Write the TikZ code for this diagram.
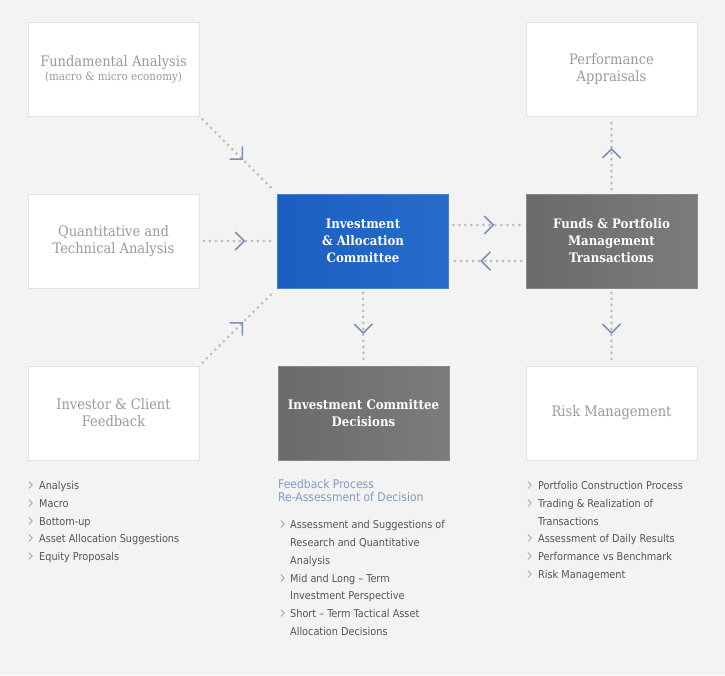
\documentclass[tikz,border=0pt]{standalone}
\usepackage{fontspec}
\usetikzlibrary{decorations.markings}
\newfontfamily\slabf{DejaVu Serif Condensed}
\newfontfamily\listf{DejaVu Sans Condensed}
\definecolor{bg}{HTML}{F3F3F3}
\definecolor{boxline}{HTML}{E2E2E2}
\definecolor{labelgray}{HTML}{9A9A9A}
\definecolor{dotgray}{HTML}{BDBDBD}
\definecolor{chevc}{HTML}{7A92BA}
\definecolor{listtext}{HTML}{555555}
\definecolor{headc}{HTML}{7F9BC8}
\definecolor{bulc}{HTML}{9AA8C0}
\definecolor{blueA}{HTML}{1B5EC1}
\definecolor{blueB}{HTML}{276CCB}
\definecolor{grayA}{HTML}{6A6A6A}
\definecolor{grayB}{HTML}{7C7C7C}
\tikzset{
  boxbase/.style={minimum width=171pt, minimum height=94pt, inner sep=0pt, align=center},
  lbox/.style={boxbase, draw=boxline, line width=0.8pt, top color=white, bottom color=white!96!bg,
    text=labelgray, font=\slabf\fontsize{14.5}{17}\selectfont},
  bluebox/.style={boxbase, draw=blueA!80!white, line width=0.8pt, left color=blueA, right color=blueB,
    text=white, font=\slabf\bfseries\fontsize{13.1}{17}\selectfont},
  graybox/.style={boxbase, draw=grayA!80!white, line width=0.8pt, left color=grayA, right color=grayB,
    text=white, font=\slabf\bfseries\fontsize{13.1}{17}\selectfont},
  chevline/.style={draw=chevc, line width=1.6pt, solid, shorten <=0pt, shorten >=0pt, line cap=butt},
  link/.style={draw=dotgray, line width=3pt, line cap=round, dash pattern=on 0pt off 6pt,
    shorten <=4.5pt, shorten >=4.5pt,
    postaction={decorate, decoration={markings, mark=at position 0.5 with {\draw[chevline] (-3pt,9pt)--(6pt,0pt)--(-3pt,-9pt);}}}},
  listtxt/.style={anchor=base west, inner sep=0pt, text=listtext, font=\listf\fontsize{10.8}{12}\selectfont},
  headtxt/.style={anchor=west, inner sep=0pt, text=headc, font=\listf\fontsize{12}{13.5}\selectfont, align=left},
  bulline/.style={draw=bulc, line width=0.8pt},
}
\newcommand\lstline[4]{% name, x, y (centre of line), text
  \node[listtxt] (#1) at (#2,#3+4) {#4};}
\newcommand\lstbul[2]{\draw[bulline] (#1-2.2,#2-3.5) -- (#1+1.3,#2) -- (#1-2.2,#2+3.5);}
\begin{document}
\begin{tikzpicture}[x=1pt,y=-1pt]
\fill[bg] (0,0) rectangle (725,675);
\useasboundingbox (0,0) rectangle (725,675);

\node[lbox] (fa) at (113.5,69) {Fundamental Analysis\\[-3pt]{\fontsize{11.5}{12}\selectfont(macro \& micro economy)}};
\node[lbox] (pa) at (611.5,69) {Performance\\Appraisals};
\node[lbox] (qa) at (113.5,241) {Quantitative and\\Technical Analysis};
\node[bluebox] (iac) at (363,241) {Investment\\\& Allocation\\Committee};
\node[graybox] (fpt) at (611.5,241) {Funds \& Portfolio\\Management\\Transactions};
\node[lbox] (icf) at (113.5,413) {Investor \& Client\\Feedback};
\node[graybox] (icd) at (363.5,413) {Investment Committee\\Decisions};
\node[lbox] (rm) at (611.5,413) {Risk Management};

\draw[link] (fa.south east) -- (iac.north west);
\draw[link] (qa.east) -- (iac.west);
\draw[link] (icf.north east) -- (iac.south west);
\draw[link] ([yshift=16pt]iac.east) -- ([yshift=16pt]fpt.west);
\draw[link] ([yshift=-20pt]fpt.west) -- ([yshift=-20pt]iac.east);
\draw[link] (fpt.north) -- (pa.south);
\draw[link] (fpt.south) -- (rm.north);
\draw[link] (iac.south) -- (icd.north);

% left list
\lstbul{31}{485}\lstline{l1}{39}{485}{Analysis}
\lstbul{31}{503}\lstline{l2}{39}{503}{Macro}
\lstbul{31}{521}\lstline{l3}{39}{521}{Bottom-up}
\lstbul{31}{538}\lstline{l4}{39}{538}{Asset Allocation Suggestions}
\lstbul{31}{556}\lstline{l5}{39}{556}{Equity Proposals}

% middle list
\node[headtxt] (mh) at (278,490.5) {Feedback Process\\Re-Assessment of Decision};
\lstbul{283}{524}\lstline{m1}{290}{524}{Assessment and Suggestions of}
\lstline{m2}{290}{542}{Research and Quantitative}
\lstline{m3}{290}{560}{Analysis}
\lstbul{283}{578}\lstline{m4}{290}{578}{Mid and Long – Term}
\lstline{m5}{290}{595}{Investment Perspective}
\lstbul{283}{613}\lstline{m6}{290}{613}{Short – Term Tactical Asset}
\lstline{m7}{290}{631}{Allocation Decisions}

% right list
\lstbul{530}{485}\lstline{r1}{538}{485}{Portfolio Construction Process}
\lstbul{530}{503}\lstline{r2}{538}{503}{Trading \& Realization of}
\lstline{r3}{538}{521}{Transactions}
\lstbul{530}{538}\lstline{r4}{538}{538}{Assessment of Daily Results}
\lstbul{530}{556}\lstline{r5}{538}{556}{Performance vs Benchmark}
\lstbul{530}{574}\lstline{r6}{538}{574}{Risk Management}
\end{tikzpicture}
\end{document}
